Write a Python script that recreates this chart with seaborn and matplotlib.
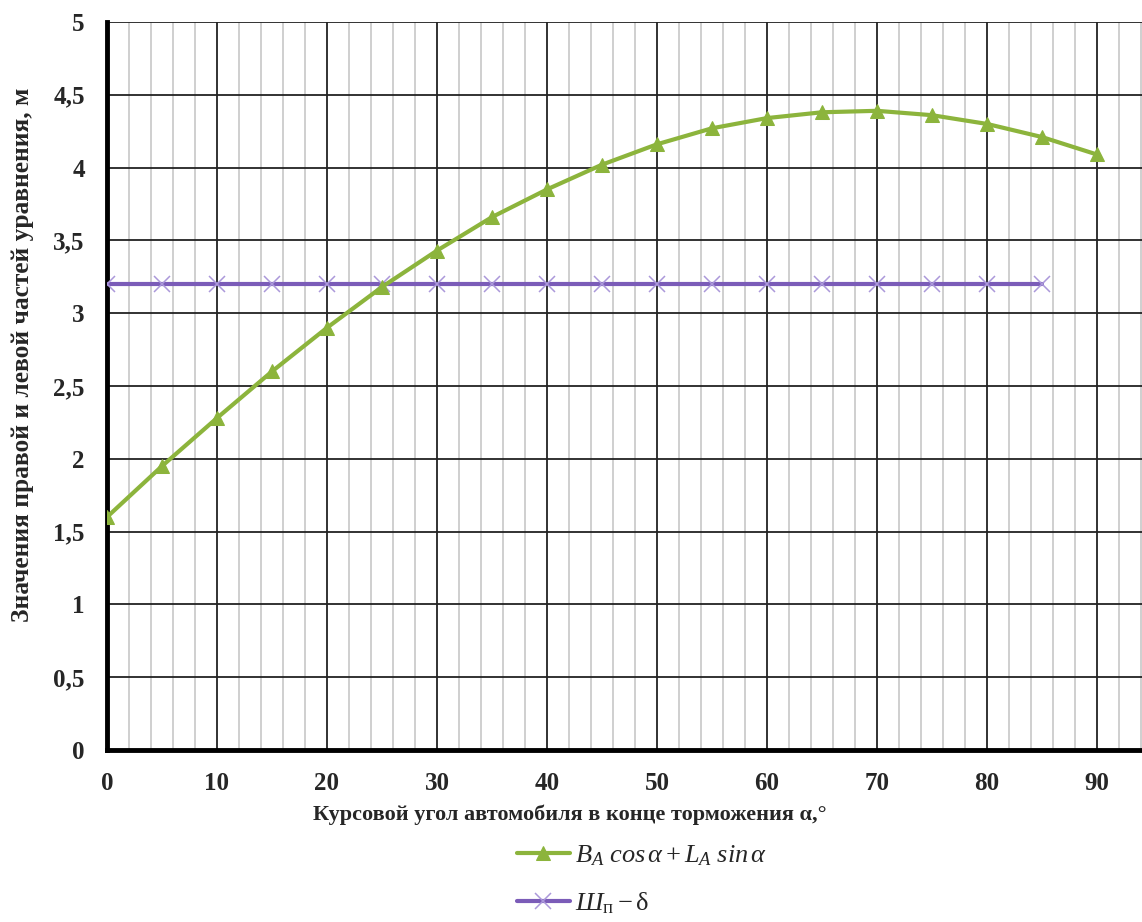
import numpy as np
import pandas as pd
import matplotlib
matplotlib.use("Agg")
import matplotlib.pyplot as plt
import seaborn as sns
from matplotlib.ticker import MultipleLocator, FuncFormatter

# Data
angles = [0, 5, 10, 15, 20, 25, 30, 35, 40, 45, 50, 55, 60, 65, 70, 75, 80, 85, 90]
green_vals = [1.60, 1.95, 2.28, 2.60, 2.90, 3.18, 3.43, 3.66, 3.85, 4.02, 4.16, 4.27,
              4.34, 4.38, 4.39, 4.36, 4.30, 4.21, 4.09]
purple_angles = [0, 5, 10, 15, 20, 25, 30, 35, 40, 45, 50, 55, 60, 65, 70, 75, 80, 85]
purple_vals = [3.2] * 18

green_label = r"$B_{A}\ cos\,\alpha + L_{A}\ sin\,\alpha$"
purple_label = r"$Ш_{\mathrm{п}} - \mathrm{\delta}$"
x_label = "Курсовой угол автомобиля в конце торможения α,°"
y_label = "Значения правой и левой частей уравнения, м"

sns.set_theme(style="white")
plt.rcParams["font.family"] = ["Liberation Serif", "DejaVu Serif"]
plt.rcParams["mathtext.fontset"] = "custom"
plt.rcParams["mathtext.it"] = "Liberation Serif:italic"
plt.rcParams["mathtext.rm"] = "Liberation Serif"
plt.rcParams["mathtext.bf"] = "Liberation Serif:bold"

fig = plt.figure(figsize=(11.42, 9.22), dpi=100)
ax = fig.add_axes([107 / 1142, 1 - 750 / 922, 1 - 107 / 1142, (750 - 22) / 922])

df_g = pd.DataFrame({"a": angles, "v": green_vals})
df_p = pd.DataFrame({"a": purple_angles, "v": purple_vals})

green = "#8cb43c"
purple = "#7b5cb8"

sns.lineplot(data=df_g, x="a", y="v", ax=ax, color=green, linewidth=3,
             marker="^", markersize=10, markeredgecolor=green, markerfacecolor=green,
             label=green_label, zorder=5)
sns.lineplot(data=df_p, x="a", y="v", ax=ax, color=purple, linewidth=3,
             marker="x", markersize=11, markeredgewidth=1.1, markeredgecolor="#ab98da",
             label=purple_label, zorder=4)

ax.set_xlim(0, 94.1)
ax.set_ylim(0, 5)
ax.xaxis.set_major_locator(MultipleLocator(10))
ax.xaxis.set_minor_locator(MultipleLocator(2))
ax.yaxis.set_major_locator(MultipleLocator(0.5))
ax.yaxis.set_major_formatter(FuncFormatter(lambda v, p: ("%g" % v).replace(".", ",")))

ax.grid(which="major", axis="both", color="#222222", linewidth=1.3)
ax.grid(which="minor", axis="x", color="#cccccc", linewidth=1.3)
ax.set_axisbelow(True)

for s in ["top", "right"]:
    ax.spines[s].set_visible(False)
for s in ["left", "bottom"]:
    ax.spines[s].set_color("black")
    ax.spines[s].set_linewidth(3.5)

ax.tick_params(axis="both", which="both", length=0, labelsize=18)
ax.tick_params(axis="x", pad=16)
ax.tick_params(axis="y", pad=16)
for lbl in ax.get_xticklabels() + ax.get_yticklabels():
    lbl.set_fontweight("bold")

ax.set_xlabel("")
ax.set_ylabel("")
fig.text(570 / 1142, 1 - 815 / 922, x_label, ha="center", va="center",
         fontsize=16, fontweight="bold")
fig.text(23 / 1142, 1 - 355 / 922, y_label, ha="center", va="center",
         rotation=90, fontsize=18.3, fontweight="bold")

leg = ax.legend(loc="center", bbox_to_anchor=(642 / 1142, 1 - 880 / 922),
                bbox_transform=fig.transFigure, frameon=False, fontsize=19,
                handlelength=2.0, labelspacing=0.85, handletextpad=0.2)

fig.savefig("out.png", dpi=100)
